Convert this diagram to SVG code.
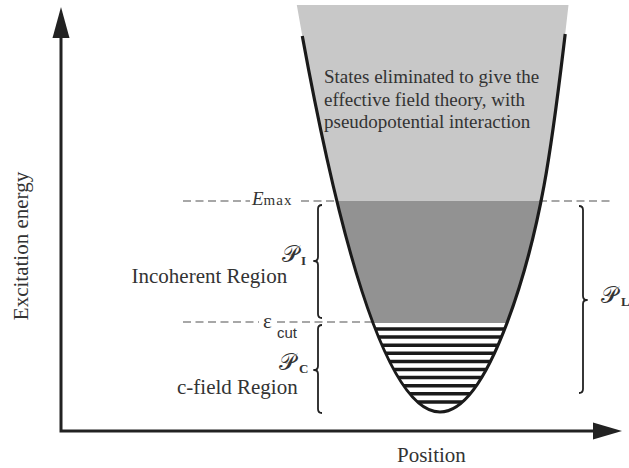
<svg xmlns="http://www.w3.org/2000/svg" width="629" height="468" viewBox="0 0 629 468">
<style>
.lbl{font-family:"Liberation Serif","Times New Roman",serif;fill:#333;font-size:21px}
.top{font-family:"Liberation Serif","Times New Roman",serif;fill:#333;font-size:19px}
.cal{font-family:"DejaVu Serif","Liberation Serif",serif;fill:#333;font-size:23px}
.sub{font-family:"Liberation Serif","Times New Roman",serif;fill:#333;font-size:13px;font-weight:bold}
.dash{stroke:#8a8a8a;stroke-width:1.5;stroke-dasharray:8 4.5;fill:none}
.brace{stroke:#222;stroke-width:1.8;fill:none;stroke-linejoin:round}
.axis{stroke:#222;stroke-width:3;fill:none}
.stripe{stroke:#1a1a1a;stroke-width:3.5}
</style>
<defs>
<clipPath id="well">
<path d="M296.8 5 L302.3 36 Q371.15 412 440 412 Q473.5 412 507 323 C543.2 226.7 553.55 130.3 565.2 34 L568.5 5 Z"/>
</clipPath>
</defs>
<rect width="629" height="468" fill="#fff"/>
<g id="regions" clip-path="url(#well)">
<rect x="280" y="5" width="300" height="196" fill="#c8c8c8"/>
<rect x="280" y="201" width="300" height="122" fill="#929292"/>
<g class="stripe">
<line x1="280" y1="329" x2="580" y2="329"/>
<line x1="280" y1="337.1" x2="580" y2="337.1"/>
<line x1="280" y1="345.2" x2="580" y2="345.2"/>
<line x1="280" y1="353.3" x2="580" y2="353.3"/>
<line x1="280" y1="361.4" x2="580" y2="361.4"/>
<line x1="280" y1="369.5" x2="580" y2="369.5"/>
<line x1="280" y1="377.6" x2="580" y2="377.6"/>
<line x1="280" y1="385.7" x2="580" y2="385.7"/>
<line x1="280" y1="393.8" x2="580" y2="393.8"/>
<line x1="280" y1="401.9" x2="580" y2="401.9"/>
</g>
</g>
<g id="connectors">
<g id="levels">
<line class="dash" x1="183" y1="201" x2="250" y2="201"/>
<line class="dash" x1="301" y1="201" x2="338" y2="201"/>
<line class="dash" x1="539" y1="201" x2="613" y2="201"/>
<line class="dash" x1="183" y1="322" x2="259" y2="322"/>
<line class="dash" x1="277" y1="322" x2="373" y2="322"/>
</g>
<path id="potential" d="M302.3 36 Q371.15 412 440 412 Q473.5 412 507 323 C543.2 226.7 553.55 130.3 565.2 34" fill="none" stroke="#1a1a1a" stroke-width="3.2"/>
<g id="axes">
<path class="axis" d="M61 37 L61 431 L595 431"/>
<polygon points="61,7 52.5,38 69.5,38" fill="#222"/>
<polygon points="622,431 593,422.5 593,439.5" fill="#222"/>
</g>
<g id="braces">
<path class="brace" d="M322 205 Q318 205 318 209 L318 257 Q318 261 314 261 Q318 261 318 265 L318 314 Q318 318 322 318"/>
<path class="brace" d="M322 325 Q318 325 318 329 L318 366 Q318 370 314 370 Q318 370 318 374 L318 409 Q318 413 322 413"/>
<path class="brace" d="M579 206 Q583 206 583 210 L583 296 Q583 300 587 300 Q583 300 583 304 L583 389 Q583 393 579 393"/>
</g>
</g>
<g id="labels">
<text class="lbl" transform="translate(28,246) rotate(-90)" text-anchor="middle">Excitation energy</text>
<text class="lbl" x="397" y="462">Position</text>
<text class="top" x="324" y="83">States eliminated to give the</text>
<text class="top" x="324" y="106">effective field theory, with</text>
<text class="top" x="324" y="128">pseudopotential interaction</text>
<text class="lbl" x="252" y="205"><tspan font-style="italic" font-size="19">E</tspan><tspan font-size="15" letter-spacing="1">max</tspan></text>
<text class="lbl" x="263" y="328" font-size="22">ε</text>
<text x="277" y="338" font-family="Liberation Sans, Arial, sans-serif" font-size="15" fill="#333">cut</text>
<text class="cal" x="282" y="262">𝒫</text><text class="sub" x="301" y="265">I</text>
<text class="lbl" x="131.5" y="283">Incoherent Region</text>
<text class="cal" x="279" y="370">𝒫</text><text class="sub" x="299" y="373">C</text>
<text class="lbl" x="177" y="394">c-field Region</text>
<text class="cal" x="601" y="303">𝒫</text><text class="sub" x="621" y="306">L</text>
</g>
</svg>
